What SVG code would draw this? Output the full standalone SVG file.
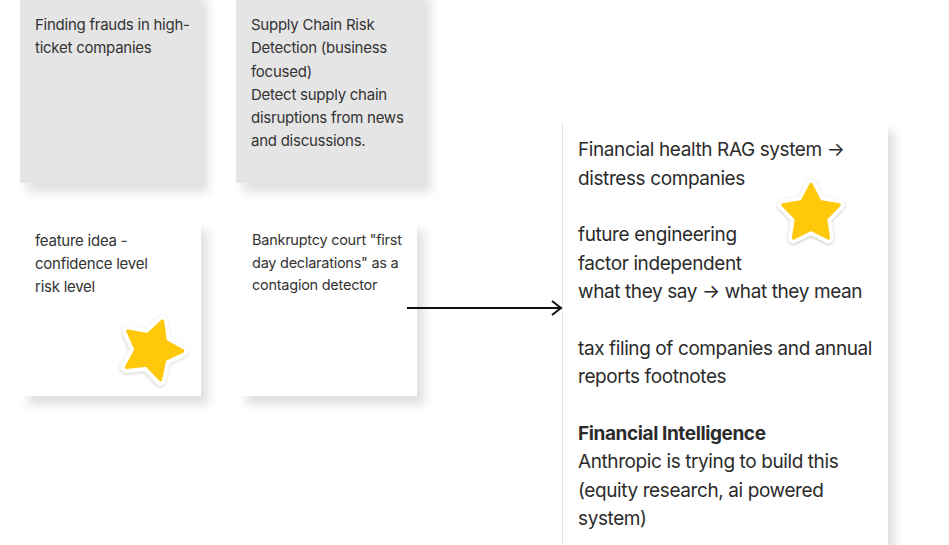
<svg xmlns="http://www.w3.org/2000/svg" width="949" height="545" viewBox="0 0 949 545">
<style>
.sm{font-family:Inter,"Liberation Sans",sans-serif;font-size:15px;fill:#333;letter-spacing:-0.25px}
.bg{font-family:Inter,"Liberation Sans",sans-serif;font-size:19px;fill:#2b2b2b;letter-spacing:-0.4px}
.b{font-weight:bold}
.conn{stroke:#111;stroke-width:2;fill:none}
</style>
<defs>
<filter id="sh" x="-20%" y="-20%" width="150%" height="150%">
<feDropShadow dx="7" dy="9" stdDeviation="5" flood-color="#000" flood-opacity="0.12"/>
</filter>
<filter id="ssh" x="-30%" y="-30%" width="160%" height="160%">
<feDropShadow dx="0" dy="1" stdDeviation="1.5" flood-color="#000" flood-opacity="0.25"/>
</filter>
<path id="star" d="M0,-28 L8.5,-11.7 L26.6,-8.7 L13.8,4.5 L16.5,22.7 L0,14.5 L-16.5,22.7 L-13.8,4.5 L-26.6,-8.7 L-8.5,-11.7 Z"/>
<marker id="ah" markerWidth="14" markerHeight="16" refX="12" refY="8" orient="auto" markerUnits="userSpaceOnUse">
<path d="M3,1 L12,8 L3,15" fill="none" stroke="#111" stroke-width="2"/>
</marker>
</defs>
<rect width="949" height="545" fill="#fff"/>

<g id="card-frauds">
<rect x="20" y="-10" width="181" height="193" fill="#e5e5e5" filter="url(#sh)"/>
<text class="sm"><tspan x="35" y="30">Finding frauds in high-</tspan><tspan x="35" y="53">ticket companies</tspan></text>
</g>

<g id="card-supply">
<rect x="236" y="-10" width="188" height="193" fill="#e5e5e5" filter="url(#sh)"/>
<text class="sm"><tspan x="251" y="30">Supply Chain Risk</tspan><tspan x="251" y="53">Detection (business</tspan><tspan x="251" y="77">focused)</tspan><tspan x="251" y="100">Detect supply chain</tspan><tspan x="251" y="123">disruptions from news</tspan><tspan x="251" y="146">and discussions.</tspan></text>
</g>

<g id="card-feature">
<rect x="21" y="221" width="180" height="175" fill="#fff" filter="url(#sh)"/>
<text class="sm"><tspan x="35" y="246">feature idea -</tspan><tspan x="35" y="269">confidence level</tspan><tspan x="35" y="292">risk level</tspan></text>
<g transform="translate(152,350) rotate(20) scale(1.1)">
<use href="#star" fill="#fff" stroke="#fff" stroke-width="10" stroke-linejoin="round" filter="url(#ssh)"/>
<use href="#star" fill="#FFC80A" stroke="#FFC80A" stroke-width="3" stroke-linejoin="round"/>
</g>
</g>

<g id="card-bankruptcy">
<rect x="239" y="221" width="178" height="175" fill="#fff" filter="url(#sh)"/>
<text class="sm" style="font-size:14.5px"><tspan x="252" y="245">Bankruptcy court "first</tspan><tspan x="252" y="268">day declarations" as a</tspan><tspan x="252" y="290">contagion detector</tspan></text>
</g>

<g id="card-financial">
<rect x="562" y="122" width="326" height="440" fill="#fff" filter="url(#sh)"/>
<line x1="562.5" y1="122" x2="562.5" y2="545" stroke="#e4e4e4" stroke-width="1"/>
<text class="bg"><tspan x="578" y="156">Financial health RAG system →</tspan><tspan x="578" y="185">distress companies</tspan><tspan x="578" y="241">future engineering</tspan><tspan x="578" y="270">factor independent</tspan><tspan x="578" y="298">what they say → what they mean</tspan><tspan x="578" y="355">tax filing of companies and annual</tspan><tspan x="578" y="383">reports footnotes</tspan><tspan x="578" y="440" class="b">Financial Intelligence</tspan><tspan x="578" y="468">Anthropic is trying to build this</tspan><tspan x="578" y="497">(equity research, ai powered</tspan><tspan x="578" y="525">system)</tspan></text>
<g transform="translate(811,214) scale(1.06)">
<use href="#star" fill="#fff" stroke="#fff" stroke-width="10" stroke-linejoin="round" filter="url(#ssh)"/>
<use href="#star" fill="#FFC80A" stroke="#FFC80A" stroke-width="3" stroke-linejoin="round"/>
</g>
</g>

<g id="connectors">
<path class="conn" d="M407,308 L561,308" marker-end="url(#ah)"/>
</g>
</svg>
